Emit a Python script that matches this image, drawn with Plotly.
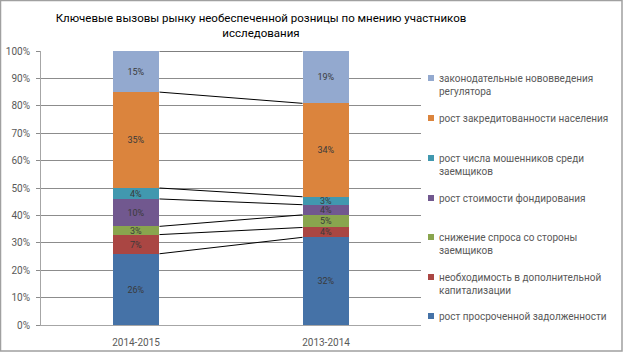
import plotly.graph_objects as go

categories = ["2014-2015", "2013-2014"]
series_names = [
    "рост просроченной задолженности",
    "необходимость в дополнительной<br>капитализации",
    "снижение спроса со стороны<br>заемщиков",
    "рост стоимости фондирования",
    "рост числа мошенников среди<br>заемщиков",
    "рост закредитованности населения",
    "законодательные нововведения<br>регулятора",
]
values = [
    [26, 32],
    [7, 3.6],
    [3, 4.6],
    [10, 3.7],
    [4, 2.9],
    [35, 34.1],
    [15, 19.1],
]
colors = ["#4572A7", "#AA4643", "#89A54E", "#71588F", "#4198AF", "#DB843D", "#93A9CF"]
y_ticks = [0, 10, 20, 30, 40, 50, 60, 70, 80, 90, 100]
y_tick_labels = [f"{t}%" for t in y_ticks]
title_text = "Ключевые вызовы рынку необеспеченной розницы по мнению участников<br>исследования"

FONT = "Roboto"
GRAY = "#595959"
BAR_W = 0.247

# pixel layout
W, H = 624, 353
L, R, T, B = 41, 421, 51, 325

def px_x(px):
    return (px - L) / (R - L)

def px_y(py):
    return (B - py) / (B - T)

fig = go.Figure()
for name, vals, col in zip(series_names, values, colors):
    fig.add_trace(go.Bar(
        x=categories, y=vals, name=name, marker=dict(color=col, line=dict(width=0)),
        width=BAR_W, text=[f"{round(v):.0f}%" for v in vals], textposition="inside",
        insidetextanchor="middle", textangle=0,
        textfont=dict(family=FONT, size=9, color="#3a3a3a"),
        showlegend=False, hoverinfo="skip",
    ))

shapes = []
# series lines connecting segment tops
cum = [0.0, 0.0]
for vals in values:
    cum = [cum[0] + vals[0], cum[1] + vals[1]]
    shapes.append(dict(type="line", xref="x", yref="y",
                       x0=0 + BAR_W / 2, x1=1 - BAR_W / 2, y0=cum[0], y1=cum[1],
                       line=dict(color="#000000", width=1), layer="above"))

# chart border
shapes.append(dict(type="rect", xref="paper", yref="paper",
                   x0=px_x(0.5), x1=px_x(W - 2), y0=px_y(H - 2), y1=px_y(0.5),
                   line=dict(color="#A0A0A0", width=1.5)))

annotations = []
# manual legend
legend_y = [78, 118, 158, 198, 237, 277, 316]
for i, (name, col) in enumerate(zip(reversed(series_names), reversed(colors))):
    yc = legend_y[i]
    shapes.append(dict(type="rect", xref="paper", yref="paper",
                       x0=px_x(428), x1=px_x(434), y0=px_y(yc + 3), y1=px_y(yc - 3),
                       fillcolor=col, line=dict(width=0)))
    annotations.append(dict(xref="paper", yref="paper", x=px_x(437), y=px_y(yc - 7.5),
                            xanchor="left", yanchor="top", align="left", showarrow=False,
                            text=name, font=dict(family=FONT, size=10, color=GRAY)))

fig.update_layout(
    width=W, height=H,
    margin=dict(l=L, r=W - R, t=T, b=H - B, autoexpand=False),
    title=dict(text=title_text, x=261 / W, xref="container", xanchor="center",
               y=1 - 22 / H, yref="container", yanchor="top",
               font=dict(family=FONT, size=11.5, color="#000000")),
    barmode="stack", bargap=0,
    plot_bgcolor="white", paper_bgcolor="white",
    shapes=shapes, annotations=annotations,
    xaxis=dict(showgrid=False, showline=True, linecolor="#A6A6A6", linewidth=1,
               ticks="", tickfont=dict(family=FONT, size=10, color=GRAY),
               ticklabelstandoff=8, range=[-0.5, 1.5], automargin=False),
    yaxis=dict(range=[0, 100], tickvals=y_ticks, ticktext=y_tick_labels,
               showgrid=True, gridcolor="#8C8C8C", gridwidth=1,
               showline=True, linecolor="#A6A6A6", linewidth=1,
               ticks="outside", ticklen=4, tickcolor="#8C8C8C",
               ticklabelstandoff=4, automargin=False,
               tickfont=dict(family=FONT, size=10, color=GRAY), zeroline=False),
    uniformtext=dict(minsize=8, mode="show"),
)

fig.write_html("out.html")
